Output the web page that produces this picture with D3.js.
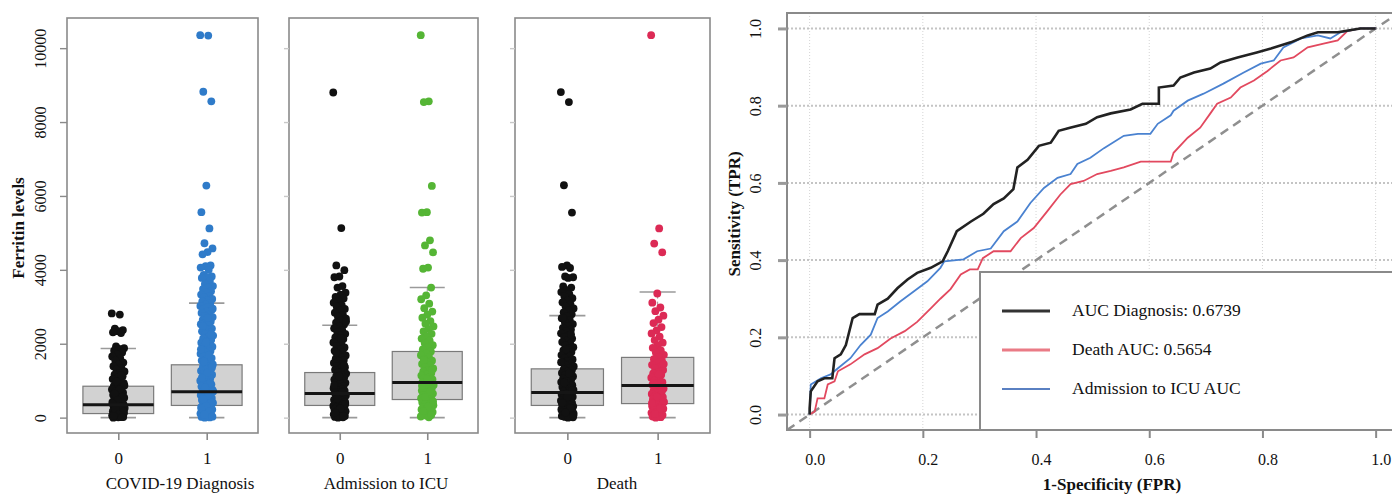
<!DOCTYPE html>
<html>
<head>
<meta charset="utf-8">
<script src="https://cdn.jsdelivr.net/npm/d3@7"></script>
<style>
  html, body { margin: 0; padding: 0; background: #fff; }
  svg { display: block; }
  text { font-family: "Liberation Serif", "DejaVu Serif", serif; }
</style>
</head>
<body>
<script>
// ---------------- DATA ----------------
const groupLabels = ["0", "1"];
const panelTitles = ["COVID-19 Diagnosis", "Admission to ICU", "Death"];
const ferritinTicks = [0, 2000, 4000, 6000, 8000, 10000];

// box statistics: [lower whisker, Q1, median, Q3, upper whisker]
const boxCovid0 = [0, 110, 350, 850, 1870];
const boxCovid1 = [0, 330, 700, 1430, 3100];
const boxIcu0   = [0, 330, 650, 1220, 2500];
const boxIcu1   = [0, 490, 950, 1790, 3520];
const boxDeath0 = [0, 330, 680, 1320, 2760];
const boxDeath1 = [0, 380, 870, 1630, 3400];

// individual ferritin values (read from jittered strips)
const ptsCovid0 = [2820, 2790, 2410, 2370, 2340, 2310, 2290, 1930, 1880, 1862, 1810, 1760, 1712, 1655, 1602, 1548, 1490, 1437, 1390, 1342, 1296, 1250, 1208, 1166, 1122, 1083, 1044, 1005, 968, 931, 896, 860, 828, 795, 764, 733, 702, 674, 646, 618, 591, 565, 540, 515, 490, 466, 443, 420, 398, 377, 356, 335, 315, 296, 277, 258, 240, 222, 205, 188, 172, 156, 140, 125, 110, 96, 82, 68, 55, 42, 30, 18, 8, 0, 1150, 980, 870, 760, 650, 560, 470, 380, 300, 230, 160, 90, 45, 12];
const ptsCovid1 = [10350, 10340, 8820, 8560, 6280, 5560, 5120, 4720, 4580, 4480, 4420, 4120, 4100, 4060, 4000, 3860, 3820, 3800, 3780, 3700, 3620, 3560, 3520, 3480, 3420, 3380, 3330, 3290, 3255, 3212, 3170, 3148, 3105, 3066, 3021, 2990, 2944, 2910, 2868, 2833, 2790, 2751, 2722, 2680, 2645, 2603, 2570, 2528, 2492, 2455, 2410, 2378, 2336, 2301, 2262, 2220, 2187, 2145, 2108, 2066, 2030, 1992, 1950, 1918, 1876, 1840, 1801, 1766, 1728, 1690, 1655, 1612, 1580, 1543, 1505, 1472, 1438, 1402, 1370, 1333, 1298, 1266, 1230, 1198, 1163, 1130, 1096, 1062, 1031, 998, 966, 934, 902, 871, 840, 811, 780, 752, 721, 694, 666, 638, 610, 584, 556, 530, 503, 478, 452, 427, 402, 378, 355, 331, 308, 286, 262, 240, 218, 196, 175, 153, 132, 110, 90, 70, 52, 35, 18, 6, 0, 2950, 2700, 2480, 2250, 2040, 1850, 1690, 1520, 1360, 1210, 1070, 940, 820, 710, 600, 500, 410, 320, 240, 160, 80, 25];
const ptsIcu0 = [8800, 5130, 4120, 3990, 3820, 3800, 3560, 3520, 3380, 3331, 3268, 3222, 3158, 3112, 3047, 3003, 2941, 2893, 2838, 2781, 2733, 2676, 2624, 2571, 2518, 2472, 2417, 2369, 2322, 2268, 2221, 2173, 2128, 2081, 2034, 1987, 1942, 1898, 1853, 1808, 1766, 1722, 1681, 1638, 1598, 1557, 1519, 1478, 1440, 1403, 1366, 1329, 1294, 1258, 1226, 1191, 1157, 1126, 1093, 1063, 1030, 1001, 969, 941, 911, 882, 853, 827, 798, 773, 745, 721, 694, 671, 645, 622, 596, 574, 549, 528, 503, 483, 459, 438, 416, 397, 374, 356, 334, 316, 295, 278, 257, 241, 221, 205, 186, 171, 152, 138, 120, 106, 89, 76, 59, 47, 31, 20, 7, 0, 2600, 2150, 1760, 1420, 1120, 880, 690, 520, 370, 240, 130, 40];
const ptsIcu1 = [10350, 8560, 8540, 6270, 5560, 5550, 4800, 4660, 4470, 4060, 4030, 3520, 3310, 3204, 3083, 2962, 2871, 2788, 2703, 2612, 2541, 2468, 2403, 2332, 2268, 2201, 2139, 2082, 2018, 1962, 1903, 1848, 1792, 1741, 1688, 1643, 1589, 1541, 1498, 1452, 1409, 1368, 1331, 1289, 1252, 1211, 1172, 1138, 1101, 1068, 1032, 1001, 968, 941, 909, 882, 851, 822, 789, 762, 733, 707, 678, 652, 624, 601, 573, 551, 524, 502, 478, 457, 431, 409, 386, 362, 338, 317, 291, 268, 246, 221, 198, 176, 151, 127, 102, 79, 56, 31, 10, 1560, 1280, 1050, 860, 700, 560, 430, 300, 180, 70];
const ptsDeath0 = [8810, 8540, 6290, 5550, 4120, 4080, 4050, 3820, 3800, 3780, 3550, 3520, 3450, 3398, 3341, 3287, 3233, 3172, 3121, 3064, 3012, 2956, 2903, 2851, 2797, 2744, 2691, 2638, 2587, 2532, 2484, 2431, 2382, 2331, 2283, 2234, 2186, 2139, 2091, 2046, 1999, 1955, 1908, 1866, 1821, 1778, 1737, 1694, 1655, 1613, 1574, 1534, 1497, 1458, 1421, 1384, 1349, 1313, 1279, 1244, 1211, 1178, 1146, 1114, 1083, 1052, 1022, 993, 963, 935, 907, 879, 852, 826, 800, 774, 749, 724, 700, 676, 652, 629, 606, 584, 562, 540, 519, 498, 477, 457, 437, 417, 398, 379, 360, 342, 324, 306, 289, 272, 255, 239, 223, 207, 192, 177, 162, 148, 134, 120, 106, 93, 80, 67, 55, 43, 31, 20, 9, 0, 2700, 2250, 1850, 1500, 1200, 950, 740, 560, 400, 260, 140, 50];
const ptsDeath1 = [10350, 5120, 4710, 4470, 3360, 3110, 2980, 2880, 2760, 2650, 2560, 2450, 2360, 2280, 2190, 2100, 2030, 1960, 1890, 1820, 1760, 1700, 1640, 1580, 1530, 1480, 1430, 1380, 1330, 1290, 1240, 1200, 1160, 1120, 1080, 1040, 1000, 960, 930, 890, 860, 820, 790, 760, 730, 700, 670, 640, 610, 580, 555, 530, 500, 475, 450, 425, 400, 378, 355, 330, 308, 285, 262, 240, 218, 196, 174, 152, 130, 110, 90, 70, 50, 30, 12, 0, 1450, 1180, 940, 740, 560, 390, 240, 100];

// ROC curves: [FPR, TPR]
const rocDiagnosis = [[0,0],[0,0.016],[0.002,0.06],[0.014,0.086],[0.026,0.094],[0.04,0.094],[0.044,0.146],[0.055,0.156],[0.064,0.18],[0.076,0.25],[0.088,0.26],[0.115,0.26],[0.12,0.285],[0.138,0.30],[0.155,0.327],[0.173,0.35],[0.19,0.367],[0.214,0.38],[0.235,0.397],[0.244,0.423],[0.26,0.475],[0.285,0.50],[0.307,0.52],[0.325,0.545],[0.343,0.56],[0.36,0.584],[0.367,0.64],[0.385,0.66],[0.405,0.696],[0.426,0.704],[0.44,0.735],[0.46,0.743],[0.488,0.753],[0.508,0.77],[0.532,0.78],[0.567,0.79],[0.588,0.805],[0.617,0.805],[0.617,0.847],[0.643,0.852],[0.655,0.873],[0.679,0.886],[0.708,0.896],[0.726,0.912],[0.756,0.925],[0.79,0.938],[0.815,0.948],[0.85,0.964],[0.88,0.982],[0.898,0.99],[0.933,0.99],[0.973,1.0],[1,1]];
const rocDeath = [[0,0],[0.009,0.008],[0.014,0.042],[0.026,0.042],[0.032,0.078],[0.044,0.086],[0.05,0.112],[0.072,0.13],[0.097,0.156],[0.12,0.172],[0.143,0.197],[0.168,0.216],[0.19,0.24],[0.214,0.275],[0.231,0.30],[0.249,0.325],[0.267,0.363],[0.283,0.376],[0.297,0.376],[0.306,0.405],[0.325,0.423],[0.355,0.423],[0.373,0.457],[0.396,0.483],[0.42,0.527],[0.443,0.57],[0.461,0.597],[0.484,0.605],[0.508,0.623],[0.532,0.631],[0.555,0.64],[0.585,0.655],[0.638,0.655],[0.643,0.678],[0.668,0.717],[0.69,0.743],[0.708,0.78],[0.72,0.805],[0.744,0.821],[0.761,0.847],[0.785,0.865],[0.809,0.89],[0.832,0.917],[0.855,0.925],[0.88,0.951],[0.908,0.961],[0.933,0.969],[0.95,0.993],[0.973,1.0],[1,1]];
const rocIcu = [[0,0],[0.002,0.078],[0.02,0.094],[0.037,0.104],[0.05,0.12],[0.072,0.146],[0.09,0.18],[0.108,0.207],[0.12,0.25],[0.138,0.267],[0.16,0.293],[0.185,0.32],[0.208,0.345],[0.231,0.38],[0.238,0.397],[0.272,0.402],[0.296,0.423],[0.32,0.43],[0.343,0.475],[0.367,0.50],[0.39,0.548],[0.414,0.587],[0.438,0.613],[0.461,0.623],[0.473,0.649],[0.496,0.665],[0.52,0.69],[0.555,0.722],[0.58,0.727],[0.602,0.727],[0.615,0.753],[0.638,0.775],[0.643,0.787],[0.668,0.813],[0.696,0.831],[0.731,0.857],[0.767,0.886],[0.797,0.909],[0.82,0.917],[0.837,0.951],[0.868,0.974],[0.898,0.982],[0.92,0.974],[0.938,0.99],[0.973,1.0],[1,1]];
const rocTicks = [0, 0.2, 0.4, 0.6, 0.8, 1.0];
const legendLabels = ["AUC Diagnosis: 0.6739", "Death AUC: 0.5654", "Admission to ICU AUC"];

// ---------------- DRAW ----------------
const W = 1392, H = 494;
const svg = d3.select("body").append("svg").attr("width", W).attr("height", H);
svg.append("rect").attr("width", W).attr("height", H).attr("fill", "#fff");

const FONT = 16;
const y = d3.scaleLinear().domain([-416, 10816]).range([433, 18]);

const panels = [
  { L: 67,  R: 258, cx: 180, title: panelTitles[0], boxes: [boxCovid0, boxCovid1], pts: [ptsCovid0, ptsCovid1], colors: ["#111111", "#2f7bc9"], labels: true },
  { L: 289, R: 478, cx: 386, title: panelTitles[1], boxes: [boxIcu0, boxIcu1], pts: [ptsIcu0, ptsIcu1], colors: ["#111111", "#55b535"], labels: false },
  { L: 515, R: 710, cx: 617, title: panelTitles[2], boxes: [boxDeath0, boxDeath1], pts: [ptsDeath0, ptsDeath1], colors: ["#111111", "#dc2a55"], labels: false }
];

panels.forEach(p => {
  const x = d3.scaleLinear().domain([0.42, 2.58]).range([p.L, p.R]);
  const g = svg.append("g");
  const bw = x(1.4) - x(1.0);    // half box width
  const cw = x(1.2) - x(1.0);    // half cap width

  p.boxes.forEach((b, i) => {
    const cx = x(i + 1);
    g.append("line").attr("x1", cx).attr("x2", cx).attr("y1", y(b[0])).attr("y2", y(b[4]))
      .attr("stroke", "#999").attr("stroke-width", 1).attr("stroke-dasharray", "4,3");
    [b[0], b[4]].forEach(v => g.append("line").attr("x1", cx - cw).attr("x2", cx + cw)
      .attr("y1", y(v)).attr("y2", y(v)).attr("stroke", "#9a9a9a").attr("stroke-width", 1.6));
    g.append("rect").attr("x", cx - bw).attr("width", 2 * bw)
      .attr("y", y(b[3])).attr("height", y(b[1]) - y(b[3]))
      .attr("fill", "#d2d2d2").attr("stroke", "#7a7a7a").attr("stroke-width", 1.2);
  });

  // points (deterministic low-discrepancy jitter)
  p.pts.forEach((vals, i) => {
    const cx = x(i + 1);
    const jw = 6.5;
    g.append("g").selectAll("circle").data(vals).join("circle")
      .attr("cx", (d, k) => cx + (((k * 0.6180339) % 1) - 0.5) * 2 * jw)
      .attr("cy", d => y(d))
      .attr("r", 3.9)
      .attr("fill", p.colors[i]);
  });

  p.boxes.forEach((b, i) => {
    const cx = x(i + 1);
    g.append("line").attr("x1", cx - bw).attr("x2", cx + bw).attr("y1", y(b[2])).attr("y2", y(b[2]))
      .attr("stroke", "#151515").attr("stroke-width", 3);
  });

  g.append("rect").attr("x", p.L).attr("y", 18).attr("width", p.R - p.L).attr("height", 415)
    .attr("fill", "none").attr("stroke", "#8a8a8a").attr("stroke-width", 1.6);

  const xa = svg.append("g").attr("transform", "translate(0,433)")
    .call(d3.axisBottom(x).tickValues([1, 2]).tickFormat((d, i) => groupLabels[i]).tickSize(7).tickPadding(12));
  xa.select(".domain").remove();
  xa.selectAll(".tick line").attr("stroke", "#8a8a8a").attr("stroke-width", 1.6);
  xa.selectAll(".tick text").attr("font-size", FONT + 1).attr("fill", "#111")
    .style("font-family", '"Liberation Serif", serif');

  const ya = svg.append("g").attr("transform", `translate(${p.L},0)`)
    .call(d3.axisLeft(y).tickValues(ferritinTicks).tickFormat(d3.format("d")).tickSize(p.labels ? 7 : 5));
  ya.select(".domain").remove();
  ya.selectAll(".tick line").attr("stroke", p.labels ? "#8a8a8a" : "#c8c8c8").attr("stroke-width", 1.4);
  if (p.labels) {
    ya.selectAll(".tick text").attr("font-size", FONT).attr("fill", "#111")
      .style("font-family", '"Liberation Serif", serif')
      .attr("transform", "rotate(-90)").attr("x", 0).attr("y", -21).attr("dy", 0)
      .attr("text-anchor", "middle");
  } else {
    ya.selectAll(".tick text").remove();
  }

  svg.append("text").attr("x", p.cx).attr("y", 489).attr("text-anchor", "middle")
    .attr("font-size", FONT + 1).attr("fill", "#111").text(p.title);
});

svg.append("text").attr("transform", "translate(24,228) rotate(-90)").attr("text-anchor", "middle")
  .attr("font-size", FONT + 1).attr("font-weight", "bold").attr("fill", "#111").text("Ferritin levels");

// ---------------- ROC ----------------
const rx = d3.scaleLinear().domain([-0.04, 1.04]).range([787, 787 + 1.08 * 566]);
const ry = d3.scaleLinear().domain([-0.04, 1.04]).range([430, 13]);
const fL = 787, fT = 13, fB = 430, fR = 1398;

svg.append("clipPath").attr("id", "rocClip").append("rect")
  .attr("x", fL).attr("y", fT).attr("width", fR - fL).attr("height", fB - fT);
const rg = svg.append("g").attr("clip-path", "url(#rocClip)");

rocTicks.forEach(t => {
  rg.append("line").attr("x1", rx(t)).attr("x2", rx(t)).attr("y1", fT).attr("y2", fB)
    .attr("stroke", "#d4d4d4").attr("stroke-width", 1).attr("stroke-dasharray", "1,2");
  rg.append("line").attr("x1", fL).attr("x2", fR).attr("y1", ry(t)).attr("y2", ry(t))
    .attr("stroke", "#c4c4c4").attr("stroke-width", 2).attr("stroke-dasharray", "2,2");
});

rg.append("line").attr("x1", rx(-0.04)).attr("y1", ry(-0.04)).attr("x2", rx(1.04)).attr("y2", ry(1.04))
  .attr("stroke", "#8f8f8f").attr("stroke-width", 2.5).attr("stroke-dasharray", "9,6");

const line = d3.line().x(d => rx(d[0])).y(d => ry(d[1]));
rg.append("path").datum(rocDeath).attr("d", line).attr("fill", "none").attr("stroke", "#e2495f").attr("stroke-width", 1.8);
rg.append("path").datum(rocIcu).attr("d", line).attr("fill", "none").attr("stroke", "#4a82d0").attr("stroke-width", 1.8);
rg.append("path").datum(rocDiagnosis).attr("d", line).attr("fill", "none").attr("stroke", "#222").attr("stroke-width", 2.6);

const lg = rg.append("g");
lg.append("rect").attr("x", 980).attr("y", 272).attr("width", 430).attr("height", 160)
  .attr("fill", "#fff").attr("stroke", "#8a8a8a").attr("stroke-width", 2);
const legColors = ["#333", "#ea7b86", "#5a80c2"];
const legWidths = [3.2, 3, 2];
legendLabels.forEach((t, i) => {
  const yy = 311 + i * 39;
  lg.append("line").attr("x1", 1002).attr("x2", 1050).attr("y1", yy).attr("y2", yy)
    .attr("stroke", legColors[i]).attr("stroke-width", legWidths[i]);
  lg.append("text").attr("x", 1072).attr("y", yy + 5).attr("font-size", FONT + 1.5).attr("fill", "#111").text(t);
});

svg.append("rect").attr("x", fL).attr("y", fT).attr("width", fR - fL).attr("height", fB - fT)
  .attr("fill", "none").attr("stroke", "#8a8a8a").attr("stroke-width", 2);

const rxa = svg.append("g").attr("transform", `translate(0,${fB})`)
  .call(d3.axisBottom(rx).tickValues(rocTicks).tickFormat(d3.format(".1f")).tickSize(8).tickPadding(16));
rxa.select(".domain").remove();
rxa.selectAll(".tick line").attr("stroke", "#8a8a8a").attr("stroke-width", 2);
rxa.selectAll(".tick text").attr("font-size", FONT).attr("fill", "#111").attr("dx", 5)
  .style("font-family", '"Liberation Serif", serif');

const rya = svg.append("g").attr("transform", `translate(${fL},0)`)
  .call(d3.axisLeft(ry).tickValues(rocTicks).tickFormat(d3.format(".1f")).tickSize(9));
rya.select(".domain").remove();
rya.selectAll(".tick line").attr("stroke", "#9a9a9a").attr("stroke-width", 3);
rya.selectAll(".tick text").attr("font-size", FONT).attr("fill", "#111")
  .style("font-family", '"Liberation Serif", serif')
  .attr("transform", "rotate(-90)").attr("x", 0).attr("y", -26).attr("dy", 0).attr("text-anchor", "middle");

svg.append("text").attr("transform", "translate(740,214) rotate(-90)").attr("text-anchor", "middle")
  .attr("font-size", FONT + 1).attr("font-weight", "bold").attr("fill", "#111").text("Sensitivity (TPR)");
svg.append("text").attr("x", 1112).attr("y", 490).attr("text-anchor", "middle")
  .attr("font-size", FONT + 1).attr("font-weight", "bold").attr("fill", "#111").text("1-Specificity (FPR)");
</script>
</body>
</html>
